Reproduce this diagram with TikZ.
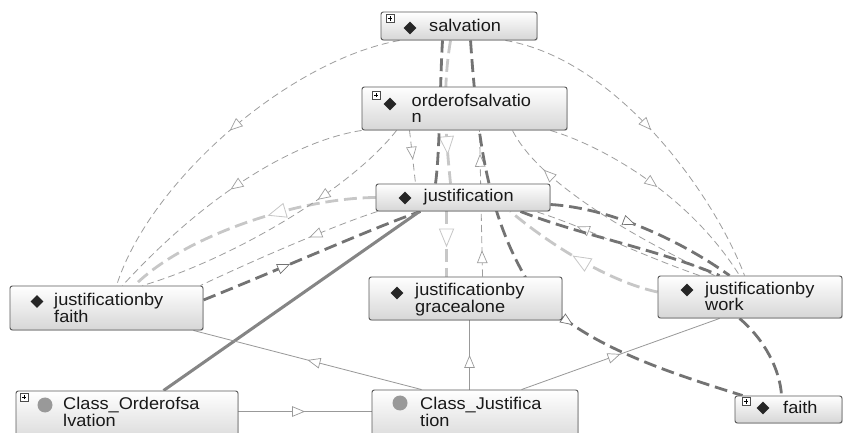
\documentclass[tikz,border=0pt]{standalone}
\usepackage{fontspec}
\setmainfont{Liberation Sans}[FakeStretch=1.07]
\usetikzlibrary{arrows.meta,decorations.markings,shadows,calc,shapes.geometric,backgrounds}
\begin{document}
\begin{tikzpicture}[x=0.03cm,y=-0.03cm,
  nbox/.style 2 args={rectangle, rounded corners=2pt, draw=black!65, line width=0.8pt,
    top color=white, bottom color=black!16, inner sep=0,
    minimum width=#1*0.03cm, minimum height=#2*0.03cm,
    drop shadow={opacity=0.25, shadow xshift=0.7pt, shadow yshift=-0.7pt}},
  diam/.style={diamond, fill=black!85, inner sep=0, minimum width=13*0.03cm, minimum height=13*0.03cm},
  dot/.style={circle, fill=black!40, inner sep=0, minimum size=15*0.03cm},
  plusicon/.style={rectangle, draw=black!70, fill=white, inner sep=0, line width=0.5pt,
    minimum size=8*0.03cm,
    path picture={\draw[line width=0.6pt, black]
      ([xshift=-1.8pt]path picture bounding box.center) -- ([xshift=1.8pt]path picture bounding box.center)
      ([yshift=-1.8pt]path picture bounding box.center) -- ([yshift=1.8pt]path picture bounding box.center);}},
  lbl/.style={anchor=base west, inner sep=0, font=\fontsize{14.5}{15}\selectfont, text=black!90},
  tri/.style={postaction={decorate, decoration={markings,
    mark=at position #1 with {\arrow{Triangle[open, fill=white, length=11pt, width=9pt, line width=0.6pt]}}}}},
  bigtri/.style={postaction={decorate, decoration={markings,
    mark=at position #1 with {\arrow{Triangle[open, fill=white, length=16pt, width=13pt, line width=0.7pt]}}}}},
  thinedge/.style={draw=black!38, line width=0.7pt, dash pattern=on 6pt off 3.5pt},
  lightedge/.style={draw=black!22, line width=2.4pt, dash pattern=on 11pt off 5pt},
  darkedge/.style={draw=black!55, line width=2.4pt, dash pattern=on 11pt off 5pt},
  solidedge/.style={draw=black!40, line width=0.7pt},
  thicksolid/.style={draw=black!48, line width=2.6pt}
]
\useasboundingbox (0,0) rectangle (843,433);

% ---------- boxes ----------
\node[nbox={156}{28}]  (sal) at (459,26)    {};
\node[nbox={205}{43}]  (ord) at (464.5,108.5) {};
\node[nbox={174}{27}]  (jus) at (463,197.5) {};
\node[nbox={193}{44}]  (jbf) at (106.5,308) {};
\node[nbox={193}{43}]  (jbg) at (465.5,298.5) {};
\node[nbox={184}{42}]  (jbw) at (750,297)   {};
\node[nbox={222}{54}]  (cor) at (127,418)   {};
\node[nbox={206}{55}]  (cju) at (475,417.5) {};
\node[nbox={107}{27}]  (fai) at (788.5,409.5) {};

% ---------- icons ----------
\node[plusicon] (sal-p) at (390,18.5) {};
\node[plusicon] (ord-p) at (376,95) {};
\node[plusicon] (cor-p) at (24,397) {};
\node[plusicon] (fai-p) at (746,401.5) {};
\node[diam] (sal-d) at (410,28) {};
\node[diam] (ord-d) at (390,104) {};
\node[diam] (jus-d) at (405,198) {};
\node[diam] (jbf-d) at (37,301.5) {};
\node[diam] (jbg-d) at (397,293) {};
\node[diam] (jbw-d) at (687,290) {};
\node[diam] (fai-d) at (763,408) {};
\node[dot] (cor-d) at (45,405) {};
\node[dot] (cju-d) at (400,403) {};

% ---------- labels ----------
\node[lbl] (sal-t)  at (429,32)    {salvation};
\node[lbl] (ord-t1) at (411.5,106.5) {orderofsalvatio};
\node[lbl] (ord-t2) at (411.5,123) {n};
\node[lbl] (jus-t)  at (423.5,201.5) {justification};
\node[lbl] (jbf-t1) at (54,306)    {justificationby};
\node[lbl] (jbf-t2) at (54,323)    {faith};
\node[lbl] (jbg-t1) at (415,296)   {justificationby};
\node[lbl] (jbg-t2) at (415,312.5) {gracealone};
\node[lbl] (jbw-t1) at (705,294.5) {justificationby};
\node[lbl] (jbw-t2) at (705,311)   {work};
\node[lbl] (cor-t1) at (63,409.5)  {Class\_Orderofsa};
\node[lbl] (cor-t2) at (63,426)    {lvation};
\node[lbl] (cju-t1) at (420,409.5) {Class\_Justifica};
\node[lbl] (cju-t2) at (420,426)   {tion};
\node[lbl] (fai-t)  at (783,414)   {faith};

% ---------- connectors ----------
\begin{scope}[on background layer]
  % light heavy dashed
  \draw[lightedge, bigtri=0.42] (jus.west) .. controls (300,198) and (185,235) .. ($(jbf.north west)+(125,0)$);
  \draw[lightedge, bigtri=0.55] ($(jbw.west)+(0,-5)$) .. controls (610,282) and (550,245) .. ($(jus.south east)+(-40,0)$);
  \draw[lightedge, bigtri=0.8] ($(sal.south west)+(70,0)$) .. controls (442,90) and (446,140) .. ($(jus.north west)+(75,0)$);
  \draw[lightedge, bigtri=0.55] ($(jus.south west)+(71,0)$) -- ($(jbg.north west)+(78,0)$);

  % thin dashed
  \draw[thinedge, tri=0.5] ($(sal.south west)+(19,0)$) .. controls (290,60) and (150,180) .. ($(jbf.north west)+(107,0)$);
  \draw[thinedge, tri=0.5] (ord.south west) .. controls (300,140) and (212,188) .. ($(jbf.north west)+(113,0)$);
  \draw[thinedge, tri=0.35] ($(ord.south west)+(35,0)$) .. controls (350,190) and (230,260) .. ($(jbf.north west)+(133,0)$);
  \draw[thinedge, tri=0.38] ($(jus.south west)+(2,0)$) .. controls (335,225) and (250,262) .. ($(jbf.north east)+(-3,0)$);
  \draw[thinedge, tri=0.5] ($(sal.south east)+(-32,0)$) .. controls (620,60) and (716,199) .. ($(jbw.north west)+(87,0)$);
  \draw[thinedge, tri=0.5] ($(ord.south east)+(-17,0)$) .. controls (600,145) and (688,193) .. ($(jbw.north west)+(82,0)$);
  \draw[thinedge, tri=0.55] ($(ord.south west)+(48,0)$) -- ($(jus.north west)+(40,0)$);
  \draw[thinedge, tri=0.18, tri=0.84] ($(jbg.north west)+(114,0)$) -- ($(ord.south west)+(118,0)$);
  \draw[thinedge, tri=0.8] ($(jbw.north west)+(57,0)$) .. controls (640,240) and (540,185) .. ($(ord.south east)+(-55,0)$);
  \draw[thinedge, tri=0.75] ($(jbw.north west)+(42,0)$) .. controls (640,255) and (580,225) .. ($(jus.south east)+(-15,0)$);

  % dark heavy dashed
  \draw[darkedge, tri=0.4] ($(jbf.east)+(0,-8)$) .. controls (290,265) and (380,225) .. ($(jus.south west)+(45,0)$);
  \draw[darkedge] ($(jus.north west)+(60,0)$) .. controls (440,150) and (440,80) .. ($(sal.south west)+(62,0)$);
  \draw[darkedge, tri=0.63] ($(sal.south west)+(90,0)$) .. controls (478,150) and (490,220) .. (530,285)
        .. controls (570,340) and (660,370) .. ($(fai.north west)+(8,0)$);
  \draw[darkedge, tri=0.45] ($(jus.east)+(0,7)$) .. controls (610,208) and (680,240) .. ($(jbw.north west)+(72,0)$);
  \draw[darkedge] ($(jus.south east)+(-30,0)$) .. controls (580,235) and (660,250) .. ($(jbw.north west)+(62,0)$);
  \draw[darkedge] ($(jbw.south west)+(82,0)$) .. controls (765,340) and (780,370) .. ($(fai.north west)+(47,0)$);

  % solid class links
  \draw[thicksolid] ($(cor.north west)+(148,0)$) -- ($(jus.south west)+(44,0)$);
  \draw[solidedge, tri=0.5] ($(cor.north east)+(0,21)$) -- ($(cju.north west)+(0,22)$);
  \draw[solidedge, tri=0.5] ($(cju.north west)+(98,0)$) -- ($(jbg.south west)+(101,0)$);
  \draw[solidedge, tri=0.5] ($(cju.north west)+(150,0)$) -- ($(jbw.south west)+(62,0)$);
  \draw[solidedge, tri=0.5] ($(cju.north west)+(50,0)$) -- ($(jbf.south east)+(-10,0)$);
\end{scope}
\end{tikzpicture}
\end{document}
